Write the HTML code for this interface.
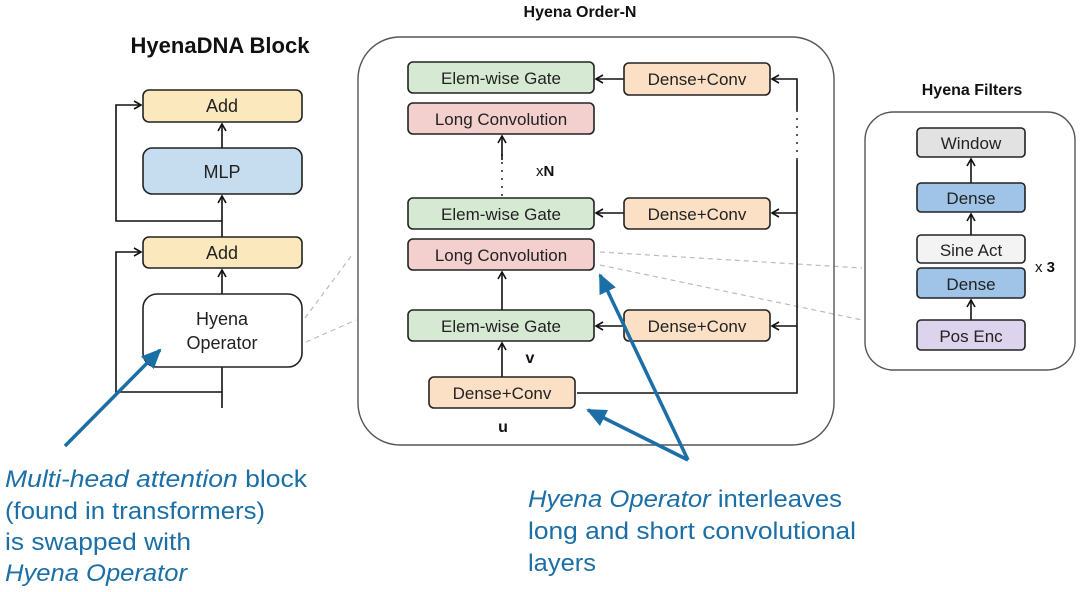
<!DOCTYPE html>
<html><head><meta charset="utf-8"><style>
html,body{margin:0;padding:0;background:#fff;}
svg{display:block;font-family:"Liberation Sans",sans-serif;}
</style></head><body>
<svg width="1080" height="592" viewBox="0 0 1080 592" xmlns="http://www.w3.org/2000/svg">
<defs>
<marker id="a" markerWidth="10" markerHeight="10" refX="8" refY="5" orient="auto" markerUnits="userSpaceOnUse"><path d="M1,1 L8,5 L1,9" fill="none" stroke="#111" stroke-width="1.6"/></marker>
<marker id="b" markerWidth="22" markerHeight="22" refX="18" refY="11" orient="auto" markerUnits="userSpaceOnUse"><path d="M0,2 L20,11 L0,20 Z" fill="#1b6fa6"/></marker>
</defs>
<g stroke="#111" stroke-width="1.6" fill="none">
<!-- left block connectors -->
<path d="M222,408 V296" marker-end="url(#a)"/>
<path d="M222,392 H116 V252 H141" marker-end="url(#a)"/>
<path d="M222,294 V270" marker-end="url(#a)"/>
<path d="M222,237 V196" marker-end="url(#a)"/>
<path d="M222,221 H116 V105 H141" marker-end="url(#a)"/>
<path d="M222,148 V124" marker-end="url(#a)"/>
</g>
<g stroke="#222" stroke-width="1.6">
<rect x="143" y="90" width="159" height="32" rx="6" fill="#fbe9bd"/>
<rect x="143" y="148" width="159" height="46" rx="9" fill="#c6ddef"/>
<rect x="143" y="237" width="159" height="31" rx="6" fill="#fbe9bd"/>
<rect x="143" y="294" width="159" height="73" rx="14" fill="#fff"/>
</g>
<text x="220" y="53" font-size="22" font-weight="bold" text-anchor="middle" fill="#111">HyenaDNA Block</text>
<g font-size="18" text-anchor="middle" fill="#222">
<text x="222" y="112">Add</text>
<text x="222" y="178">MLP</text>
<text x="222" y="259">Add</text>
<text x="222" y="325">Hyena</text>
<text x="222" y="349">Operator</text>
</g>
<!-- dashed grey -->
<g stroke="#bbb" stroke-width="1.2" stroke-dasharray="5,4" fill="none">
<path d="M305,318 L352,255"/><path d="M306,342 L356,320"/>
<path d="M600,252 L862,268"/><path d="M600,265 L862,320"/>
</g>
<!-- middle panel -->
<rect x="358" y="37" width="476" height="408" rx="42" fill="none" stroke="#555" stroke-width="1.4"/>
<text x="580" y="17" font-size="16" font-weight="bold" text-anchor="middle" fill="#111">Hyena Order-N</text>
<g stroke="#111" stroke-width="1.6" fill="none">
<path d="M577,393 H797 V160"/>
<path d="M797,110 V190" stroke-dasharray="2,6" stroke="#333"/>
<path d="M797,110 V79 H772" marker-end="url(#a)"/>
<path d="M797,213 H772" marker-end="url(#a)"/>
<path d="M797,326 H772" marker-end="url(#a)"/>
<path d="M624,79 H596" marker-end="url(#a)"/>
<path d="M624,213 H596" marker-end="url(#a)"/>
<path d="M624,326 H596" marker-end="url(#a)"/>
<path d="M502,377 V343" marker-end="url(#a)"/>
<path d="M502,310 V272" marker-end="url(#a)"/>
<path d="M502,196 V150" stroke-dasharray="2,6" stroke="#333"/>
<path d="M502,160 V136" marker-end="url(#a)"/>
</g>
<g stroke="#222" stroke-width="1.6">
<rect x="408" y="62" width="186" height="31" rx="5" fill="#d6ead3"/>
<rect x="408" y="103" width="186" height="31" rx="5" fill="#f3cfcd"/>
<rect x="624" y="63" width="146" height="32" rx="5" fill="#fbe0c6"/>
<rect x="408" y="198" width="186" height="31" rx="5" fill="#d6ead3"/>
<rect x="408" y="239" width="186" height="31" rx="5" fill="#f3cfcd"/>
<rect x="624" y="198" width="146" height="31" rx="5" fill="#fbe0c6"/>
<rect x="408" y="310" width="186" height="31" rx="5" fill="#d6ead3"/>
<rect x="624" y="310" width="146" height="31" rx="5" fill="#fbe0c6"/>
<rect x="429" y="377" width="146" height="31" rx="5" fill="#fbe0c6"/>
</g>
<g font-size="17" text-anchor="middle" fill="#222">
<text x="501" y="84">Elem-wise Gate</text>
<text x="501" y="125">Long Convolution</text>
<text x="697" y="85">Dense+Conv</text>
<text x="501" y="220">Elem-wise Gate</text>
<text x="501" y="261">Long Convolution</text>
<text x="697" y="220">Dense+Conv</text>
<text x="501" y="332">Elem-wise Gate</text>
<text x="697" y="332">Dense+Conv</text>
<text x="502" y="399">Dense+Conv</text>
</g>
<text x="536" y="176" font-size="15" fill="#111">x<tspan font-weight="bold">N</tspan></text>
<text x="530" y="363" font-size="16" font-weight="bold" fill="#111" text-anchor="middle">v</text>
<text x="503" y="432" font-size="16" font-weight="bold" fill="#111" text-anchor="middle">u</text>
<!-- right panel -->
<rect x="865" y="112" width="210" height="258" rx="28" fill="none" stroke="#555" stroke-width="1.4"/>
<text x="972" y="95" font-size="16" font-weight="bold" text-anchor="middle" fill="#111">Hyena Filters</text>
<g stroke="#111" stroke-width="1.6" fill="none">
<path d="M971,320 V300" marker-end="url(#a)"/>
<path d="M971,235 V214" marker-end="url(#a)"/>
<path d="M971,183 V159" marker-end="url(#a)"/>
</g>
<g stroke="#222" stroke-width="1.6">
<rect x="917" y="128" width="108" height="29" rx="4" fill="#e2e2e2"/>
<rect x="917" y="183" width="108" height="29" rx="4" fill="#9fc4e8"/>
<rect x="917" y="235" width="108" height="28" rx="4" fill="#f3f3f3"/>
<rect x="917" y="268" width="108" height="30" rx="4" fill="#9fc4e8"/>
<rect x="917" y="320" width="108" height="30" rx="4" fill="#dcd3ec"/>
</g>
<g font-size="17" text-anchor="middle" fill="#222">
<text x="971" y="149">Window</text>
<text x="971" y="204">Dense</text>
<text x="971" y="256">Sine Act</text>
<text x="971" y="290">Dense</text>
<text x="971" y="342">Pos Enc</text>
</g>
<text x="1035" y="272" font-size="15" fill="#111">x <tspan font-weight="bold">3</tspan></text>
<!-- blue arrows -->
<g stroke="#1b6fa6" stroke-width="3.5" fill="none">
<path d="M65,446 L160,350" marker-end="url(#b)"/>
<path d="M688,460 L600,275" marker-end="url(#b)"/>
<path d="M688,460 L588,410" marker-end="url(#b)"/>
</g>
<g font-size="24" fill="#1b6fa6">
<text x="5" y="487" textLength="302" lengthAdjust="spacingAndGlyphs"><tspan font-style="italic">Multi-head attention</tspan> block</text>
<text x="5" y="519" textLength="260" lengthAdjust="spacingAndGlyphs">(found in transformers)</text>
<text x="5" y="550" textLength="186" lengthAdjust="spacingAndGlyphs">is swapped with</text>
<text x="5" y="581" font-style="italic" textLength="182" lengthAdjust="spacingAndGlyphs">Hyena Operator</text>
<text x="528" y="507" textLength="314" lengthAdjust="spacingAndGlyphs"><tspan font-style="italic">Hyena Operator</tspan> interleaves</text>
<text x="528" y="539" textLength="328" lengthAdjust="spacingAndGlyphs">long and short convolutional</text>
<text x="528" y="571" textLength="68" lengthAdjust="spacingAndGlyphs">layers</text>
</g>
</svg>
</body></html>
